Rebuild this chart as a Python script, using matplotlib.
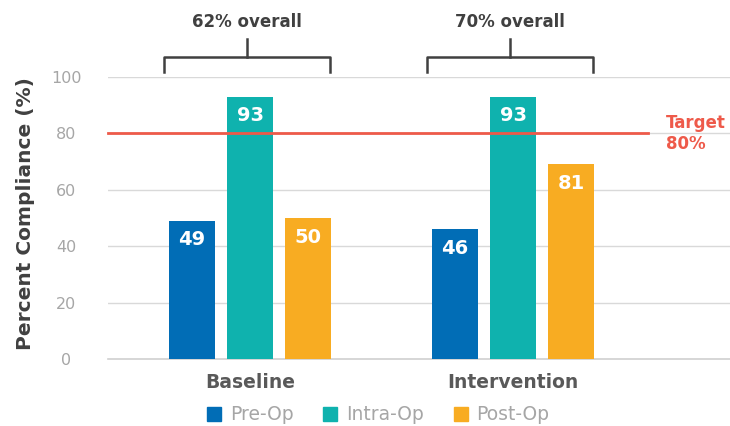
import numpy as np
import matplotlib
matplotlib.use('Agg')
import matplotlib.pyplot as plt
from matplotlib.patches import Patch

plt.rcParams['font.family'] = ['DejaVu Sans']

# data
groups = ['Baseline', 'Intervention']
series = ['Pre-Op', 'Intra-Op', 'Post-Op']
heights = {'Pre-Op': [49, 46], 'Intra-Op': [93, 93], 'Post-Op': [50, 69]}
labels = {'Pre-Op': ['49', '46'], 'Intra-Op': ['93', '93'], 'Post-Op': ['50', '81']}
overall = ['62% overall', '70% overall']
target = 80
colors = {'Pre-Op': '#016DB6', 'Intra-Op': '#0FB2AE', 'Post-Op': '#F8AC22'}

fig = plt.figure(figsize=(7.3, 4.26), dpi=100)
ax = fig.add_axes([0.148, 0.1573, 0.852, 0.6619])

x = np.arange(len(groups))
step = 0.2205
width = 0.175

for i, s in enumerate(series):
    pos = x + (i - 1) * step
    bars = ax.bar(pos, heights[s], width, color=colors[s], zorder=3, label=s)
    for b, lab in zip(bars, labels[s]):
        ax.annotate(lab, (b.get_x() + b.get_width() / 2, b.get_height()),
                    xytext=(0, -19), textcoords='offset pixels',
                    ha='center', va='center', color='white',
                    fontsize=14, fontweight='bold', zorder=4)

ax.set_xlim(-0.54, 1.825)
ax.set_ylim(0, 100)
ax.set_yticks(range(0, 101, 20))
ax.tick_params(axis='y', length=0, labelsize=11.5, labelcolor='#A6A6A6', pad=30)
for t in ax.get_yticklabels():
    t.set_horizontalalignment('center')
ax.set_xticks(x)
ax.set_xticklabels(groups, fontsize=13.5, fontweight='bold', color='#595959')
ax.tick_params(axis='x', length=0, pad=10)
ax.grid(axis='y', color='#D9D9D9', linewidth=1, zorder=0)
ax.axhline(0, color='#D0D0D0', linewidth=1.2, zorder=1, clip_on=False)
for sp in ax.spines.values():
    sp.set_visible(False)
ax.set_ylabel('Percent Compliance (%)', fontsize=14.5, fontweight='bold',
              color='#404040')
ax.yaxis.set_label_coords(-0.118, 0.515)

# target line
ax.plot([-0.54, 1.515], [target, target], color='#EE5A4A', linewidth=2, zorder=5,
        clip_on=False)
ax.text(1.58, target, 'Target\n' + str(target) + '%', color='#EE5A4A',
        fontsize=12, fontweight='bold', va='center', ha='left', linespacing=1.25)

# brackets with overall text
for g, txt in zip(x, overall):
    c = g - 0.012
    half = 0.316
    ax.plot([c - half, c - half, c + half, c + half], [101.8, 107.1, 107.1, 101.8],
            color='#404040', linewidth=1.8, clip_on=False)
    ax.plot([c, c], [107.1, 113.5], color='#404040', linewidth=1.8, clip_on=False)
    ax.text(c, 119.5, txt, ha='center', va='center', fontsize=12,
            fontweight='bold', color='#404040')

handles = [Patch(color=colors[s], label=s) for s in series]
leg = fig.legend(handles=handles, loc='center', bbox_to_anchor=(0.518, 0.026),
                 ncol=3, frameon=False, fontsize=13.5, handlelength=0.75,
                 handleheight=0.75, handletextpad=0.45, columnspacing=1.6)
for t in leg.get_texts():
    t.set_color('#A6A6A6')

fig.savefig('out.png', dpi=100)
